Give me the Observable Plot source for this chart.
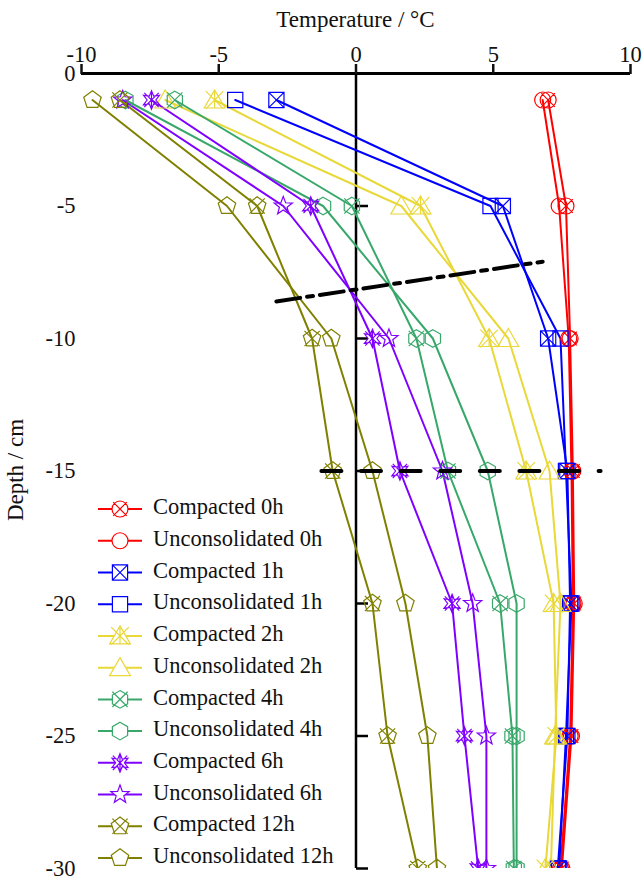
<!DOCTYPE html>
<html><head><meta charset="utf-8">
<script src="https://cdn.jsdelivr.net/npm/d3@7"></script>
<script src="https://cdn.jsdelivr.net/npm/@observablehq/plot@0.6"></script>
<style>html,body{margin:0;padding:0;background:#fff}</style>
</head><body><div id="chart"></div>
<script>
// ---- data (temperature in °C at each depth in cm) ----
const depths = [-1, -5, -10, -15, -20, -25, -30];
const compacted0h       = [7.0, 7.65, 7.8, 7.9, 7.95, 7.85, 7.5];
const unconsolidated0h  = [6.8, 7.4, 7.75, 7.85, 7.9, 7.8, 7.45];
const compacted1h       = [-2.9, 5.35, 7.0, 7.7, 7.8, 7.7, 7.35];
const unconsolidated1h  = [-4.4, 4.9, 7.45, 7.65, 7.85, 7.65, 7.4];
const compacted2h       = [-5.15, 2.35, 4.85, 6.2, 7.2, 7.3, 6.9];
const unconsolidated2h  = [-6.95, 1.65, 5.55, 7.05, 7.45, 7.25, 7.1];
const compacted4h       = [-6.6, -0.15, 2.2, 3.35, 5.25, 5.7, 5.75];
const unconsolidated4h  = [-8.4, -1.2, 2.8, 4.8, 5.85, 5.85, 5.85];
const compacted6h       = [-7.45, -1.65, 0.6, 1.6, 3.5, 3.95, 4.45];
const unconsolidated6h  = [-8.5, -2.65, 1.2, 3.15, 4.25, 4.75, 4.75];
const compacted12h      = [-8.6, -3.6, -1.6, -0.85, 0.6, 1.15, 2.25];
const unconsolidated12h = [-9.6, -4.7, -0.9, 0.6, 1.8, 2.6, 2.95];

const seriesNames = ["Compacted 0h","Unconsolidated 0h","Compacted 1h","Unconsolidated 1h",
  "Compacted 2h","Unconsolidated 2h","Compacted 4h","Unconsolidated 4h",
  "Compacted 6h","Unconsolidated 6h","Compacted 12h","Unconsolidated 12h"];
const seriesValues = [compacted0h, unconsolidated0h, compacted1h, unconsolidated1h,
  compacted2h, unconsolidated2h, compacted4h, unconsolidated4h,
  compacted6h, unconsolidated6h, compacted12h, unconsolidated12h];
const seriesColors = ["#ff0000","#ff0000","#0000ff","#0000ff","#e8d838","#e8d838",
  "#38a86a","#38a86a","#7f00ff","#7f00ff","#808000","#808000"];

const tempTicks = [-10, -5, 0, 5, 10];
const depthTicks = [0, -5, -10, -15, -20, -25, -30];
const dashDotLine = [{t: -2.9, d: -8.6}, {t: 6.8, d: -7.1}];
const dashedLine = [{t: -1.26, d: -15}, {t: 8.91, d: -15}];

// ---- marker symbols ----
const rad = s => Math.sqrt(s / Math.PI);
function poly(ctx, pts) { ctx.moveTo(pts[0][0], pts[0][1]); for (let i = 1; i < pts.length; i++) ctx.lineTo(pts[i][0], pts[i][1]); ctx.closePath(); }
function xcross(ctx, k) { ctx.moveTo(-k, -k); ctx.lineTo(k, k); ctx.moveTo(-k, k); ctx.lineTo(k, -k); }
function regular(n, r, rot) { const p = []; for (let i = 0; i < n; i++) { const a = rot + i * 2 * Math.PI / n; p.push([r * Math.cos(a), r * Math.sin(a)]); } return p; }
function starPts(n, ro, ri) { const p = []; for (let i = 0; i < 2 * n; i++) { const a = -Math.PI / 2 + i * Math.PI / n; const r = i % 2 ? ri : ro; p.push([r * Math.cos(a), r * Math.sin(a)]); } return p; }
const circleDraw = (ctx, r) => { ctx.moveTo(r, 0); ctx.arc(0, 0, r, 0, 2 * Math.PI); };
const squareDraw = (ctx, r) => { ctx.rect(-r, -r, 2 * r, 2 * r); };
const triDraw = (ctx, r) => poly(ctx, [[0, -1.25 * r], [1.3 * r, 1.0 * r], [-1.3 * r, 1.0 * r]]);
const hexDraw = (ctx, r) => poly(ctx, regular(6, 1.1 * r, -Math.PI / 2));
const pentDraw = (ctx, r) => poly(ctx, regular(5, 1.15 * r, -Math.PI / 2));
const symbols = [
  {draw(c, s) { const r = rad(s); circleDraw(c, r); xcross(c, r * 0.85); }},
  {draw(c, s) { const r = rad(s); circleDraw(c, r); }},
  {draw(c, s) { const r = rad(s) * 0.95; squareDraw(c, r); xcross(c, r); }},
  {draw(c, s) { const r = rad(s) * 0.95; squareDraw(c, r); }},
  {draw(c, s) { const r = rad(s); triDraw(c, r); xcross(c, r * 1.1); c.moveTo(0, -1.25 * r); c.lineTo(0, r); }},
  {draw(c, s) { const r = rad(s); triDraw(c, r); }},
  {draw(c, s) { const r = rad(s); hexDraw(c, r); xcross(c, r * 0.95); }},
  {draw(c, s) { const r = rad(s); hexDraw(c, r); }},
  {draw(c, s) { const r = rad(s); poly(c, starPts(6, 1.15 * r, 0.55 * r)); xcross(c, r * 0.9); c.moveTo(0, -1.15 * r); c.lineTo(0, 1.15 * r); }},
  {draw(c, s) { const r = rad(s); poly(c, starPts(5, 1.2 * r, 0.5 * r)); }},
  {draw(c, s) { const r = rad(s); pentDraw(c, r); xcross(c, r * 0.95); }},
  {draw(c, s) { const r = rad(s); pentDraw(c, r); }}
];
const tickRight = {draw(c, s) { c.moveTo(0, 0); c.lineTo(12, 0); }};

// ---- rows ----
const seriesRows = seriesNames.map((name, i) => depths.map((d, j) => ({name, d, t: seriesValues[i][j]})));

const font = "Liberation Serif, Times New Roman, serif";
const marks = [
  Plot.ruleY([0], {stroke: "#000", strokeWidth: 3}),
  Plot.ruleX([0], {stroke: "#000", strokeWidth: 2.5}),
  Plot.dot(depthTicks.filter(d => d < 0), {x: 0, y: d => d, symbol: tickRight, r: 5, stroke: "#000", strokeWidth: 2.5}),
  Plot.axisX({anchor: "top", ticks: tempTicks, tickSize: 10, tickPadding: 2, strokeWidth: 2.5, tickFormat: d => String(d), label: null, fontSize: 22.5}),
  Plot.axisY({anchor: "left", ticks: depthTicks, tickSize: 0, tickPadding: 6, tickFormat: d => String(d), label: null, fontSize: 22.5})
];
seriesRows.forEach((rows, i) => {
  marks.push(Plot.line(rows, {x: "t", y: "d", stroke: seriesColors[i], strokeWidth: 2, clip: true}));
});
seriesRows.forEach((rows, i) => {
  marks.push(Plot.dot(rows, {x: "t", y: "d", symbol: symbols[i], r: 8, stroke: seriesColors[i], strokeWidth: 1.2, fill: "none", clip: true}));
});
marks.push(Plot.line(dashDotLine, {x: "t", y: "d", stroke: "#000", strokeWidth: 4, strokeDasharray: "24,7,6,7"}));
marks.push(Plot.line(dashedLine, {x: "t", y: "d", stroke: "#000", strokeWidth: 4, strokeDasharray: "20,19.6"}));

const chart = Plot.plot({
  width: 643, height: 876,
  marginTop: 73, marginLeft: 81, marginRight: 13, marginBottom: 8,
  style: {fontFamily: font, fontSize: "22px", color: "#111", background: "#fff", overflow: "visible"},
  x: {domain: [-10, 10]},
  y: {domain: [-30, 0]},
  marks
});
document.getElementById("chart").appendChild(chart);

const svg = d3.select(chart);
svg.append("text").attr("x", 355.5).attr("y", 22).attr("text-anchor", "middle").attr("dominant-baseline", "middle")
  .attr("font-family", font).attr("font-size", 23).attr("fill", "#111").text("Temperature / °C");
svg.append("text").attr("transform", "translate(18,470) rotate(-90)").attr("text-anchor", "middle").attr("dominant-baseline", "middle")
  .attr("font-family", font).attr("font-size", 23).attr("fill", "#111").text("Depth / cm");

// ---- legend ----
const lg = svg.append("g");
seriesNames.forEach((name, i) => {
  const y = 509 + i * 31.73;
  const g = lg.append("g").attr("transform", `translate(0,${y})`);
  g.append("line").attr("x1", 98).attr("x2", 142).attr("y1", 0).attr("y2", 0).attr("stroke", seriesColors[i]).attr("stroke-width", 2);
  g.append("path").attr("transform", "translate(120,0)").attr("d", d3.symbol(symbols[i], Math.PI * 64)())
    .attr("fill", "#fff").attr("stroke", seriesColors[i]).attr("stroke-width", 1.2);
  g.append("text").attr("x", 153).attr("y", 0).attr("text-anchor", "start").attr("dominant-baseline", "middle")
    .attr("font-family", font).attr("font-size", 22.5).attr("fill", "#111").text(name);
});
</script>
</body></html>
